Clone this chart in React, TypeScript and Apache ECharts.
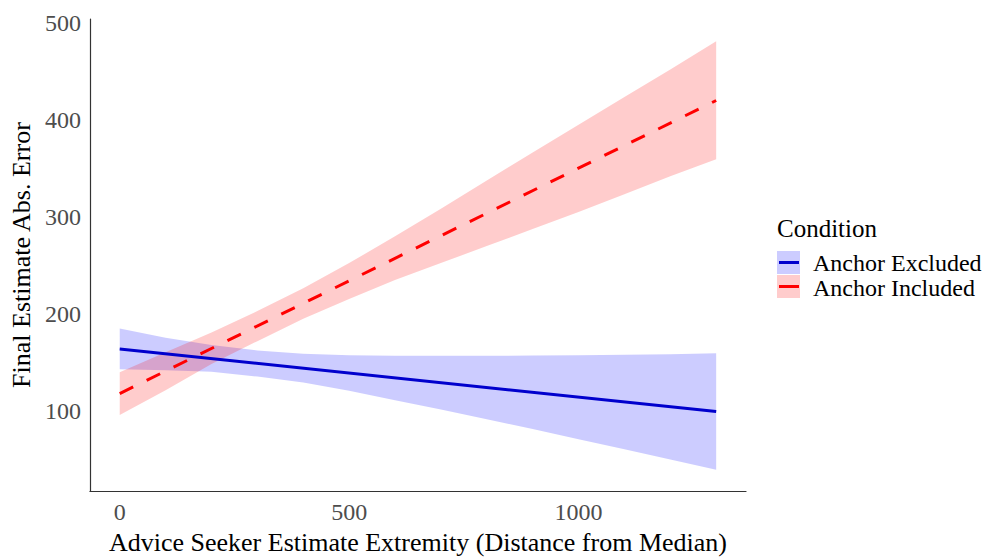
import React, { useEffect, useRef } from "react";
import * as echarts from "echarts";

// Fitted-line endpoints (x, y)
const fitX = [0, 1300];
const excludedFit = [164, 99.5];
const includedFit = [118, 420];

// Confidence band readings
const bandX = [0, 100, 200, 300, 400, 500, 600, 700, 800, 900, 1000, 1100, 1200, 1300];
const excludedUpper = [185, 175.5, 168, 162.5, 159, 157.5, 157, 157, 157, 157.2, 157.5, 158, 158.5, 159.5];
const excludedLower = [143, 142, 140.5, 135.5, 129.5, 121, 111, 101.5, 91.5, 81.5, 71, 60.5, 50, 39.5];
const includedUpper = [140, 160.5, 181, 203, 226.5, 252.5, 280, 308.5, 337.5, 366.5, 395, 423.5, 452, 481];
const includedLower = [96, 121.5, 148.5, 172, 195, 215.5, 235, 252.5, 270, 287.5, 305, 323.5, 342, 359.5];

const xTicks = [0, 500, 1000];
const yTicks = [100, 200, 300, 400, 500];

const seriesNames = ["Anchor Excluded", "Anchor Included"];
const legendTitle = "Condition";
const xTitle = "Advice Seeker Estimate Extremity (Distance from Median)";
const yTitle = "Final Estimate Abs. Error";

const FONT = "'Liberation Serif', 'DejaVu Serif', serif";
const BLUE = "#0000CD";
const RED = "#FF0000";
const BLUE_FILL = "rgba(0,0,255,0.2)";
const RED_FILL = "rgba(255,0,0,0.2)";

function bandSeries(upper: number[], lower: number[], fill: string) {
  return {
    type: "custom",
    silent: true,
    data: [[bandX[0], lower[0]]],
    renderItem: (_params: any, api: any) => {
      const top = bandX.map((x, i) => api.coord([x, upper[i]]));
      const bot = bandX.map((x, i) => api.coord([x, lower[i]])).reverse();
      return {
        type: "polygon",
        shape: { points: [...top, ...bot], smooth: 0 },
        style: { fill, stroke: null },
      };
    },
  };
}

export default function App() {
  const ref = useRef<HTMLDivElement>(null);
  useEffect(() => {
    if (!ref.current) return;
    const chart = echarts.init(ref.current, undefined, { renderer: "svg" });
    const line = (vals: number[], color: string, type: any) => ({
      type: "line",
      data: fitX.map((x, i) => [x, vals[i]]),
      showSymbol: false,
      symbol: "none",
      silent: true,
      lineStyle: { color, width: 3, type, cap: "butt" },
    });
    chart.setOption({
      animation: false,
      backgroundColor: "#ffffff",
      grid: { left: 89, right: 252, top: 19, bottom: 63 },
      xAxis: {
        type: "value",
        min: -65,
        max: 1365,
        name: xTitle,
        nameLocation: "middle",
        nameGap: 35,
        nameTextStyle: { fontFamily: FONT, fontSize: 26, color: "#000" },
        axisLine: { show: true, onZero: false, lineStyle: { color: "#333", width: 1.2 } },
        axisTick: { show: false },
        splitLine: { show: false },
        axisLabel: {
          customValues: xTicks,
          formatter: (v: number) => String(v),
          fontFamily: FONT,
          fontSize: 24,
          color: "#4d4d4d",
          margin: 9,
        },
      },
      yAxis: {
        type: "value",
        min: 17.5,
        max: 504,
        name: yTitle,
        nameLocation: "middle",
        nameRotate: 90,
        nameGap: 54,
        nameTextStyle: { fontFamily: FONT, fontSize: 26, color: "#000" },
        axisLine: { show: true, onZero: false, lineStyle: { color: "#333", width: 1.2 } },
        axisTick: { show: false },
        splitLine: { show: false },
        axisLabel: {
          customValues: yTicks,
          formatter: (v: number) => String(v),
          fontFamily: FONT,
          fontSize: 24,
          color: "#4d4d4d",
          margin: 9,
        },
      },
      series: [
        bandSeries(excludedUpper, excludedLower, BLUE_FILL),
        line(excludedFit, BLUE, "solid"),
        bandSeries(includedUpper, includedLower, RED_FILL),
        line(includedFit, RED, [15, 15]),
      ],
      graphic: [
        {
          type: "text",
          x: 777,
          y: 228,
          style: { text: legendTitle, font: `25px ${FONT}`, fill: "#000", verticalAlign: "middle", lineHeight: 22 },
        },
        { type: "rect", shape: { x: 777, y: 251, width: 23, height: 23 }, style: { fill: BLUE_FILL } },
        { type: "line", shape: { x1: 779, y1: 262.5, x2: 799, y2: 262.5 }, style: { stroke: BLUE, lineWidth: 3 } },
        { type: "rect", shape: { x: 777, y: 275, width: 23, height: 23 }, style: { fill: RED_FILL } },
        { type: "line", shape: { x1: 779, y1: 286.5, x2: 799, y2: 286.5 }, style: { stroke: RED, lineWidth: 3 } },
        {
          type: "text",
          x: 813,
          y: 262.5,
          style: { text: seriesNames[0], font: `24px ${FONT}`, fill: "#000", verticalAlign: "middle", lineHeight: 22 },
        },
        {
          type: "text",
          x: 813,
          y: 287.5,
          style: { text: seriesNames[1], font: `24px ${FONT}`, fill: "#000", verticalAlign: "middle", lineHeight: 22 },
        },
      ],
    });
    return () => chart.dispose();
  }, []);
  return (
    <div
      ref={ref}
      style={{ position: "fixed", left: 0, top: 0, width: 998, height: 560 }}
    />
  );
}
